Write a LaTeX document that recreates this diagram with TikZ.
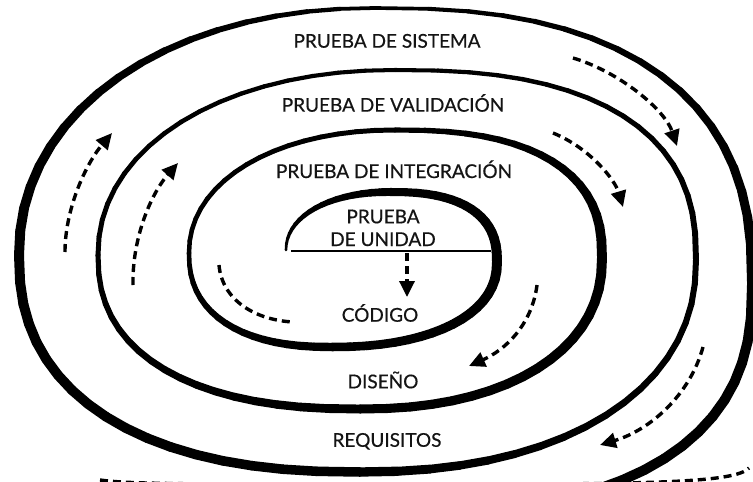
\documentclass[tikz,border=0pt]{standalone}
\usepackage{fontspec}
\setmainfont{Lato}
\newfontfamily\lblfont[FakeBold=0.5]{Lato}
\usetikzlibrary{arrows.meta}
\tikzset{
  lbl/.style={anchor=base, inner sep=0pt, font=\lblfont\fontsize{19}{21}\selectfont, text=black!92},
  dashline/.style={line width=3.4pt, dash pattern=on 8pt off 5pt},
  dasharrow/.style={dashline, -{Triangle[length=16pt,width=15pt]}},
  divline/.style={line width=1.5pt},
}
\begin{document}
\begin{tikzpicture}[x=1pt,y=-1pt]
\useasboundingbox (0,0) rectangle (753,482);
\fill[white] (0,0) rectangle (753,482);
\begin{scope}
\clip (0,0) rectangle (753,482);
% spiral: quarters P -> Q, widths wp -> wq, exponent e, odd flag, width bias g
\foreach \px/\py/\qx/\qy/\wp/\wq/\e/\od/\g in {
  286/250/390/192/2.5/8/0.95/0/1,
  390/192/497/262/8/10/0.8/1/1,
  497/262/332/347/10/8.5/0.9/0/1,
  332/347/189/253/8.5/4.5/0.85/1/1,
  189/253/395/130/4.5/5/0.95/0/1,
  395/130/602/258/5/10/0.8/1/1,
  602/258/360/409/10/9/0.9/0/1,
  360/409/98/255/9/5/0.85/1/1,
  98/255/395/70/5/4/0.95/0/1,
  395/70/696/260/4/6/0.8/1/1,
  696/260/360/472/6/9.5/0.9/0/2,
  360/472/19/255/9.5/10/0.85/1/1,
  19/255/375/8/10/3.5/0.95/0/1.5,
  375/8/752/285/3.5/10/0.8/1/1,
  752/285/390/514/10/10/0.8/0/1}{
  \foreach \j in {0,...,17}{
    \pgfmathsetmacro\ua{5*\j}
    \pgfmathsetmacro\ub{5*\j+5}
    \pgfmathsetmacro\ca{pow(max(cos(\ua),0.0001),\e)}
    \pgfmathsetmacro\sa{pow(max(sin(\ua),0.0001),\e)}
    \pgfmathsetmacro\cb{pow(max(cos(\ub),0.0001),\e)}
    \pgfmathsetmacro\sb{pow(max(sin(\ub),0.0001),\e)}
    \pgfmathsetmacro\w{\wp+(\wq-\wp)*pow((\j+0.5)/18,\g)}
    \ifnum\od=1
      \pgfmathsetmacro\xa{\px+(\qx-\px)*\sa}
      \pgfmathsetmacro\ya{\qy+(\py-\qy)*\ca}
      \pgfmathsetmacro\xb{\px+(\qx-\px)*\sb}
      \pgfmathsetmacro\yb{\qy+(\py-\qy)*\cb}
    \else
      \pgfmathsetmacro\xa{\qx+(\px-\qx)*\ca}
      \pgfmathsetmacro\ya{\py+(\qy-\py)*\sa}
      \pgfmathsetmacro\xb{\qx+(\px-\qx)*\cb}
      \pgfmathsetmacro\yb{\py+(\qy-\py)*\sb}
    \fi
    \draw[line width=\w pt, line cap=round] (\xa,\ya) -- (\xb,\yb);
  }
}
% bottom dashed arc, almost entirely below the frame
\coordinate (be) at (100,480);
\coordinate (bm) at (420,484.3);
\coordinate (bs) at (749,468);
\draw[dashline] (be) .. controls (130,484.3) and (200,484.3) .. (bm)
  .. controls (650,484.3) and (735,483) .. (bs);
\end{scope}

% labels
\node[lbl] (sis) at (387,47.7) {PRUEBA DE SISTEMA};
\node[lbl] (val) at (393,111.7) {PRUEBA DE VALIDACIÓN};
\node[lbl] (int) at (394,178) {PRUEBA DE INTEGRACIÓN};
\node[lbl] (pru) at (383,223.3) {PRUEBA};
\node[lbl] (uni) at (383,246) {DE UNIDAD};
\node[lbl] (cod) at (380,321.7) {CÓDIGO};
\node[lbl] (dis) at (383,388.3) {DISEÑO};
\node[lbl] (req) at (387,446.8) {REQUISITOS};

% divider under PRUEBA DE UNIDAD
\coordinate (dl) at (291,251);
\coordinate (dr) at (491,251);
\draw[divline] (dl) -- (dr);

% arrow ends
\coordinate (a1s) at (65,252);   \coordinate (a1e) at (112,133);
\coordinate (a2s) at (133,285);  \coordinate (a2e) at (178,163);
\coordinate (a3s) at (573,58);   \coordinate (a3e) at (677,146);
\coordinate (a4s) at (553,133);  \coordinate (a4e) at (623,207);
\coordinate (a5s) at (537,285);  \coordinate (a5e) at (469,366);
\coordinate (a6s) at (703,347);  \coordinate (a6e) at (600,445);
\coordinate (a7s) at (219,265);  \coordinate (a7e) at (293,322);
\coordinate (a8s) at (407,253);  \coordinate (a8e) at (407,297);

\draw[dasharrow] (a1s) .. controls (65,210) and (85,165) .. (a1e);
\draw[dasharrow] (a2s) .. controls (132,240) and (150,195) .. (a2e);
\draw[dasharrow] (a3s) .. controls (620,72) and (665,110) .. (a3e);
\draw[dasharrow] (a4s) .. controls (590,148) and (615,180) .. (a4e);
\draw[dasharrow] (a5s) .. controls (532,325) and (505,350) .. (a5e);
\draw[dasharrow] (a6s) .. controls (690,395) and (650,430) .. (a6e);
\draw[dashline] (a7s) .. controls (222,300) and (255,320) .. (a7e);
\draw[dasharrow] (a8s) -- (a8e);
\end{tikzpicture}
\end{document}
